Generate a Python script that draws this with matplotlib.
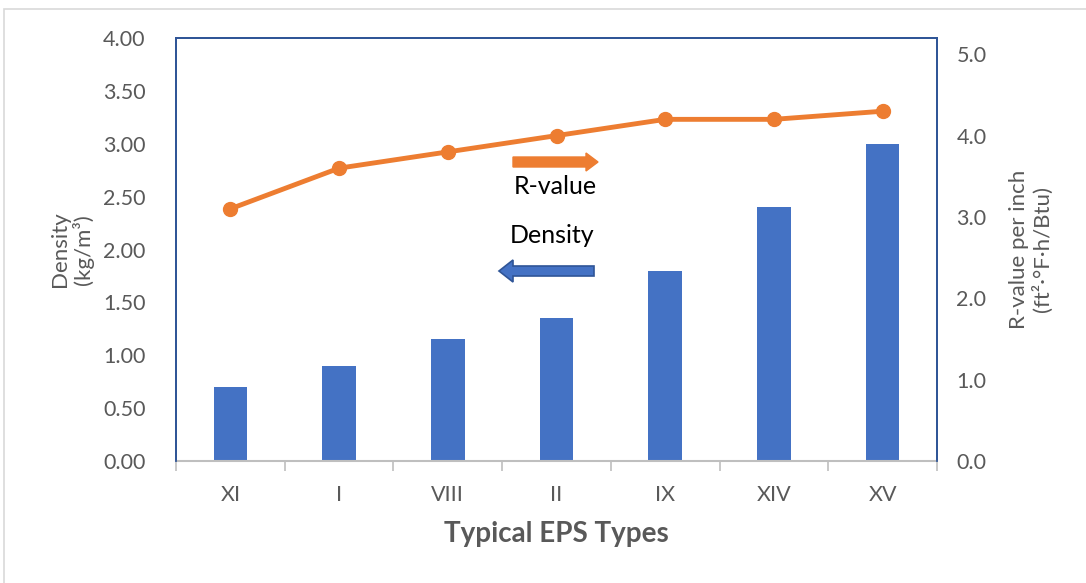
import matplotlib
matplotlib.use("Agg")
import matplotlib.pyplot as plt
from matplotlib.patches import FancyArrow, Rectangle
import numpy as np

plt.rcParams['font.family'] = ['Lato', 'DejaVu Sans']

eps_types = ["XI", "I", "VIII", "II", "IX", "XIV", "XV"]
density = [0.70, 0.90, 1.15, 1.35, 1.80, 2.40, 3.00]
r_value = [3.1, 3.6, 3.8, 4.0, 4.2, 4.2, 4.3]
density_ticks = [0.0, 0.5, 1.0, 1.5, 2.0, 2.5, 3.0, 3.5, 4.0]
r_ticks = [0.0, 1.0, 2.0, 3.0, 4.0, 5.0]

W, H = 1086, 583
fig = plt.figure(figsize=(W / 100, H / 100), dpi=100)

# plot area in pixel coordinates
x0, x1, y0, y1 = 176, 937, 38, 461
ax = fig.add_axes([x0 / W, 1 - y1 / H, (x1 - x0) / W, (y1 - y0) / H])
ax2 = ax.twinx()

bar_color = "#4472C4"
line_color = "#ED7D31"
tick_color = "#595959"

x = np.arange(len(eps_types))
ax.bar(x, density, width=0.31, color=bar_color, zorder=2)
ax.set_xlim(-0.5, len(eps_types) - 0.5)
ax.set_ylim(0, 4.0)
ax.set_yticks(density_ticks)
ax.set_yticklabels([f"{v:.2f}" for v in density_ticks])

ax2.plot(x, r_value, color=line_color, lw=3.5, marker='o', ms=10, zorder=3)
ax2.set_ylim(0, 5.2)
ax2.set_yticks(r_ticks)
ax2.set_yticklabels([f"{v:.1f}" for v in r_ticks])

ax.set_xticks(x)
ax.set_xticklabels(eps_types)
ax.set_xticks(np.arange(-0.5, len(eps_types)), minor=True)
ax.tick_params(axis='x', which='major', length=0, pad=17, labelsize=15.5, labelcolor=tick_color)
ax.tick_params(axis='x', which='minor', length=7, color="#BFBFBF", width=1.2)
ax.tick_params(axis='y', length=0, pad=22, labelsize=15.5, labelcolor=tick_color)
ax2.tick_params(axis='y', length=0, pad=14, labelsize=15.5, labelcolor=tick_color)

for a in (ax, ax2):
    for s in a.spines.values():
        s.set_color("#2F5597")
        s.set_linewidth(1.3)
ax.spines['bottom'].set_color("#BFBFBF")
ax2.spines['bottom'].set_visible(False)
ax.spines['bottom'].set_linewidth(1.5)

ax.set_xlabel("Typical EPS Types", fontsize=20, fontweight='bold', color=tick_color, labelpad=12)
ax.set_ylabel("Density\n(kg/m³)", fontsize=16, color=tick_color, labelpad=6, linespacing=1.15)
ax2.set_ylabel("R-value per inch\n(ft²·°F·h/Btu)", fontsize=16, color=tick_color,
               rotation=90, labelpad=16, linespacing=1.15)

# direction arrows with labels, placed in figure pixels
def px(xp, yp):
    return xp / W, 1 - yp / H

ox, oy = px(513, 162)
fig.patches.append(FancyArrow(ox, oy, (598 - 513) / W, 0, width=10 / H,
                              head_width=18 / H, head_length=12 / W,
                              length_includes_head=True, color=line_color,
                              transform=fig.transFigure, figure=fig))
bx, by = px(594, 271)
fig.patches.append(FancyArrow(bx, by, -(594 - 499) / W, 0, width=10 / H,
                              head_width=22 / H, head_length=14 / W,
                              length_includes_head=True, facecolor=bar_color,
                              edgecolor="#2F5597", lw=1.2,
                              transform=fig.transFigure, figure=fig))
fig.text(*px(555, 187), "R-value", fontsize=18, ha='center', va='center', color='black')
fig.text(*px(552, 236), "Density", fontsize=18, ha='center', va='center', color='black')

# light outer frame
fig.patches.append(Rectangle(px(4, 600), (W + 20) / W, 591 / H, fill=False,
                             edgecolor="#D9D9D9", lw=1.2,
                             transform=fig.transFigure, figure=fig))

fig.savefig("out.png", dpi=100)
